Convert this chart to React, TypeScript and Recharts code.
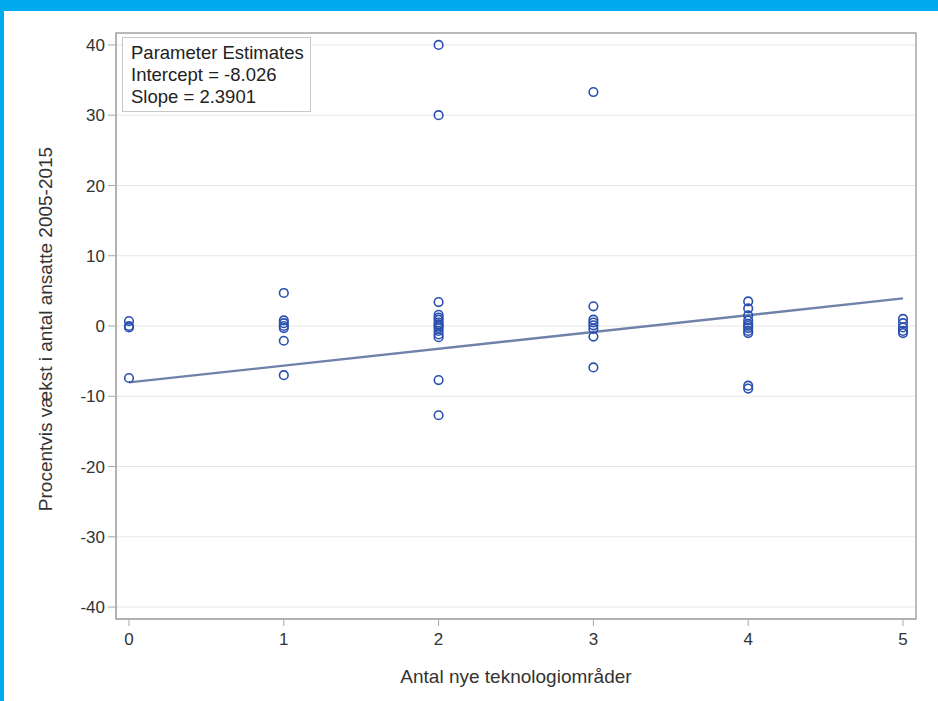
import React from "react";
import {
  ComposedChart,
  Scatter,
  XAxis,
  YAxis,
  CartesianGrid,
  ReferenceLine,
  ReferenceArea,
} from "recharts";

const xTicks = [0, 1, 2, 3, 4, 5];
const yTicks = [-40, -30, -20, -10, 0, 10, 20, 30, 40];

const groupX = [0, 1, 2, 3, 4, 5];
const growth0 = [0.7, 0.0, -0.2, -7.4];
const growth1 = [4.7, 0.8, 0.4, 0.0, -0.3, -2.1, -7.0];
const growth2 = [40, 30, 3.4, 1.6, 1.2, 0.9, 0.5, 0.2, 0.0, -0.3, -0.7, -1.2, -1.6, -7.7, -12.7];
const growth3 = [33.3, 2.8, 0.9, 0.5, 0.1, -0.4, -1.5, -5.9];
const growth4 = [3.5, 2.5, 1.5, 0.8, 0.3, 0.0, -0.3, -0.7, -1.0, -8.5, -8.9];
const growth5 = [1.0, 0.4, -0.2, -0.7, -1.0];
const growthGroups = [growth0, growth1, growth2, growth3, growth4, growth5];

const fitStart = { x: 0, y: -8.026 };
const fitEnd = { x: 5, y: 3.924 };

const xDomain = [-0.084, 5.084];
const yDomain = [-41.7, 41.7];

const legendLines = ["Parameter Estimates", "Intercept = -8.026", "Slope = 2.3901"];
const xTitle = "Antal nye teknologiområder";
const yTitle = "Procentvis vækst i antal ansatte 2005-2015";

const points = groupX.flatMap((gx, i) => growthGroups[i].map((v) => ({ x: gx, y: v })));

const FONT = "'Liberation Sans Narrow', 'Liberation Sans', Arial, sans-serif";
const TXT = "#333333";
const FRAME = "#A8A8A8";

const Circle = (props: any) => {
  const { cx, cy } = props;
  if (cx == null || cy == null) return null;
  return <circle cx={cx} cy={cy} r={4.3} fill="none" stroke="#2A4FB0" strokeWidth={1.6} />;
};

export default function App() {
  return (
    <div
      style={{
        position: "absolute",
        left: 0,
        top: 0,
        width: 938,
        height: 701,
        background: "#ffffff",
        overflow: "hidden",
      }}
    >
      <div style={{ position: "absolute", left: 0, top: 0, width: 938, height: 11, background: "#00AAEE" }} />
      <div style={{ position: "absolute", left: 0, top: 0, width: 4, height: 701, background: "#00AAEE" }} />
      <div style={{ position: "absolute", left: 0, top: 0 }}>
        <ComposedChart
          width={938}
          height={701}
          margin={{ top: 33, right: 22, bottom: 32, left: 56 }}
        >
          <CartesianGrid horizontal={true} vertical={false} stroke="#E6E6E6" strokeWidth={1} />
          <XAxis
            type="number"
            dataKey="x"
            domain={xDomain}
            ticks={xTicks}
            allowDataOverflow
            height={50}
            tickSize={7}
            tickMargin={7}
            stroke={FRAME}
            tick={{ fill: TXT, fontSize: 17, fontFamily: FONT }}
          />
          <YAxis
            type="number"
            dataKey="y"
            domain={yDomain}
            ticks={yTicks}
            allowDataOverflow
            width={60}
            tickSize={8}
            tickMargin={3}
            stroke={FRAME}
            tick={{ fill: TXT, fontSize: 17, fontFamily: FONT }}
          />
          <ReferenceArea
            x1={xDomain[0]}
            x2={xDomain[1]}
            y1={yDomain[0]}
            y2={yDomain[1]}
            fill="none"
            fillOpacity={0}
            stroke={FRAME}
            strokeWidth={1.5}
            ifOverflow="visible"
          />
          <ReferenceLine
            segment={[fitStart, fitEnd]}
            stroke="#6F82A8"
            strokeWidth={2.4}
            ifOverflow="visible"
          />
          <Scatter data={points} shape={<Circle />} isAnimationActive={false} />
        </ComposedChart>
      </div>
      <svg
        width={938}
        height={701}
        style={{ position: "absolute", left: 0, top: 0, pointerEvents: "none" }}
      >
        <text
          x={516}
          y={683}
          textAnchor="middle"
          fontFamily={FONT}
          fontSize={19}
          fill={TXT}
        >
          {xTitle}
        </text>
        <text
          x={52}
          y={329}
          textAnchor="middle"
          fontFamily={FONT}
          fontSize={19}
          fill={TXT}
          transform="rotate(-90 52 329)"
        >
          {yTitle}
        </text>
      </svg>
      <div
        style={{
          position: "absolute",
          left: 122,
          top: 37,
          width: 189,
          height: 75,
          border: "1px solid #C8C8C8",
          boxSizing: "border-box",
          background: "#ffffff",
          fontFamily: FONT,
          fontSize: 18.5,
          color: "#222222",
          padding: "4px 0 0 8px",
          lineHeight: "22px",
        }}
      >
        {legendLines.map((l) => (
          <div key={l} style={{ whiteSpace: "nowrap" }}>{l}</div>
        ))}
      </div>
    </div>
  );
}
